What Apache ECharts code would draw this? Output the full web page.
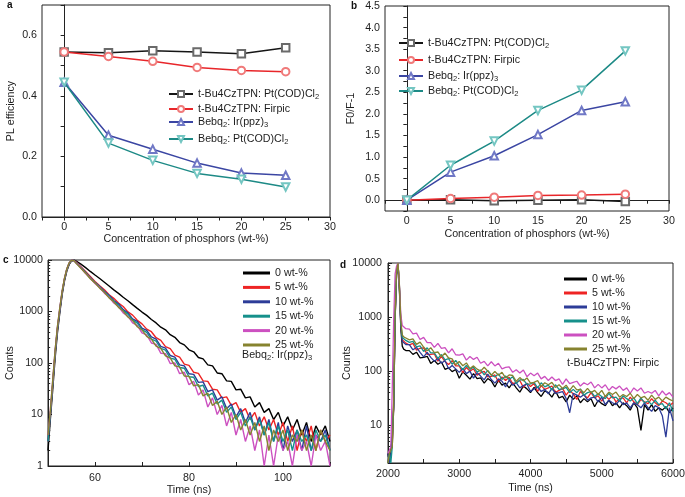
<!DOCTYPE html>
<html><head><meta charset="utf-8">
<script src="https://cdn.jsdelivr.net/npm/echarts@6/dist/echarts.min.js"></script>
<style>html,body{margin:0;padding:0;background:#fff}#c{width:685px;height:497px}</style>
</head><body><div id="c"></div>
<script>
// ---------- panel a / b : concentration series ----------
const conc = [0, 5, 10, 15, 20, 25];
const namesAB = ['t-Bu4CzTPN: Pt(COD)Cl2', 't-Bu4CzTPN: Firpic', 'Bebq2: Ir(ppz)3', 'Bebq2: Pt(COD)Cl2'];
const plPt = [0.545, 0.542, 0.549, 0.545, 0.539, 0.559];
const plFirpic = [0.545, 0.530, 0.514, 0.494, 0.484, 0.480];
const plIr = [0.445, 0.270, 0.224, 0.178, 0.145, 0.138];
const plBebqPt = [0.445, 0.244, 0.187, 0.144, 0.125, 0.099];
const svPt = [0.0, 0.01, -0.015, 0.0, 0.01, -0.03];
const svFirpic = [0.0, 0.04, 0.07, 0.11, 0.12, 0.14];
const svIr = [0.0, 0.65, 1.03, 1.52, 2.08, 2.28];
const svBebqPt = [0.0, 0.81, 1.37, 2.08, 2.55, 3.46];

// ---------- panel c : Bebq2: Ir(ppz)3 decays ----------
const namesCD = ['0 wt-%', '5 wt-%', '10 wt-%', '15 wt-%', '20 wt-%', '25 wt-%'];
const timeC = [50,50.5,51,51.5,52,52.5,53,53.5,54,54.5,55,55.5,56,57,58,59,60,61,62,63,64,65,66,67,68,69,70,71,72,73,74,75,76,77,78,79,80,81,82,83,84,85,86,87,88,89,90,91,92,93,94,95,96,97,98,99,100,101,102,103,104,105,106,107,108,109,110];
const c0 = [2,8,30,120,380,930,2100,3900,6100,8200,9500,10000,
 9550,8300,7100,6000,5100,4370,3700,3120,2630,2250,1890,1620,1360,1150,975,840,700,600,495,440,355,315,250,225,180,165,128,120,92,88,64,62,45,44,30,31,21,22,14,17,11,13,8,11,6,9,5,8,4,7,3,6,4,6,3];
const c5 = [3,10,38,150,450,1050,2300,4200,6500,8600,9800,9900,
 9100,7400,6000,4800,3820,3150,2650,2120,1800,1460,1250,985,850,675,575,455,405,310,275,208,190,142,130,95,90,66,63,45,44,31,30,21,22,15,17,11,13,8,11,6,9,5,8,4,7,3,6,2,5,3,6,2,5,3,4];
const c10 = [3,10,38,150,450,1050,2300,4200,6500,8600,9800,9900,
 8900,7200,5750,4600,3680,3050,2480,2070,1630,1410,1090,940,715,645,475,430,320,290,210,195,140,130,92,88,62,60,42,43,28,30,19,22,13,16,9,13,7,11,5,9,4,8,3,7,2,6,3,5,2,6,2,4,3,5,2];
const c15 = [3,10,38,150,450,1050,2300,4200,6500,8600,9800,9900,
 8800,7100,5650,4480,3600,2980,2370,1990,1560,1330,1030,890,680,595,445,395,290,265,192,178,124,118,82,79,54,53,35,37,23,26,16,19,11,14,8,11,6,9,5,8,4,7,3,6,3,5,2,5,3,4,2,5,3,4,2];
const c20 = [4,12,45,170,500,1150,2450,4400,6700,8800,9900,9800,
 8650,7050,5450,4400,3500,2910,2270,1900,1460,1250,940,810,600,535,385,350,245,230,155,152,98,100,62,66,38,44,24,30,14,21,10,15,6,11,4,8,3,6,2,5,1,4,1,4,2,3,1,4,2,3,1,4,2,3,1];
const c25 = [4,12,45,170,500,1150,2450,4400,6700,8800,9900,9800,
 8600,6900,5550,4330,3600,2840,2370,1840,1550,1200,1020,780,670,505,440,330,290,212,192,138,126,88,84,56,55,36,38,23,26,15,18,10,14,7,10,5,8,4,7,3,6,2,5,3,5,2,4,3,5,2,4,2,5,3,2];

// ---------- panel d : t-Bu4CzTPN: Firpic decays ----------
const timeD = [2000,2020,2040,2060,2080,2100,2120,2140,2160,2180,2200,2220,2250,
 2300,2350,2400,2450,2500,2550,2600,2650,2700,2750,2800,2850,2900,2950,3000,3050,3100,3150,3200,3250,3300,3350,3400,3450,3500,3550,3600,3650,3700,3750,3800,3850,3900,3950,4000,4050,4100,4150,4200,4250,4300,4350,4400,4450,4500,4550,4600,4650,4700,4750,4800,4850,4900,4950,5000,5050,5100,5150,5200,5250,5300,5350,5400,5450,5500,5550,5600,5650,5700,5750,5800,5850,5900,5950,6000];
const d0 = [3,2,4,5,20,900,6000,10000,3200,600,290,255,240,
 240,204,224,176,180,188,139,157,134,148,108,115,98,107,74,97,84,71,90,73,75,60,73,66,51,68,55,60,49,61,49,41,53,47,40,50,40,34,43,40,33,43,32,34,27,36,30,35,26,31,27,31,22,29,25,23,29,23,26,21,26,23,19,26,21,8,24,19,24,18,21,19,22,17,21];
const d5 = [2,3,3,4,25,1000,6400,10000,3600,750,380,350,330,
 305,326,245,265,269,204,205,209,153,187,150,132,156,125,125,94,117,100,111,84,93,99,78,80,85,63,78,67,77,58,62,67,50,60,52,59,42,54,46,49,53,40,44,48,36,44,38,30,42,36,32,40,32,35,28,35,30,35,27,31,32,26,33,27,24,30,27,25,31,26,23,28,26,23,26];
const d10 = [3,2,3,3,22,950,6200,10000,3400,700,355,330,310,
 308,248,274,222,184,222,180,153,172,140,158,111,127,110,95,112,90,100,74,94,81,69,88,70,60,72,65,51,68,55,61,49,54,58,42,47,51,42,46,38,48,39,40,42,31,17,39,36,33,37,29,32,33,27,33,24,29,26,24,29,24,26,21,26,24,21,26,21,18,23,21,15,6,21,12];
const d15 = [2,3,2,4,28,1100,6600,10000,3800,800,420,390,370,
 341,354,281,293,231,270,218,218,172,203,162,170,134,158,128,107,127,108,119,96,105,85,103,85,78,89,70,81,70,79,59,69,70,57,58,62,49,61,51,55,45,56,46,47,50,40,46,40,47,36,40,42,34,38,34,31,39,32,33,28,35,31,28,32,25,32,26,28,24,29,24,25,20,26,18];
const d20 = [3,3,4,50,900,6300,8800,10000,3900,1100,700,650,610,
 598,488,505,384,422,337,338,275,325,264,272,218,259,201,198,208,160,187,165,181,140,152,125,149,125,140,110,117,120,95,106,92,105,79,92,82,92,72,80,67,78,67,72,57,72,59,62,65,53,61,56,63,49,57,49,56,44,52,47,53,44,49,39,49,43,49,39,42,39,44,35,43,36,40,33];
const d25 = [2,3,3,4,30,1200,6800,10000,4000,850,470,430,410,
 378,394,312,344,279,237,271,220,226,184,216,175,168,131,151,126,142,112,125,109,100,118,100,84,99,84,95,75,85,83,65,76,66,75,60,62,67,52,61,56,62,50,56,48,55,44,54,45,46,40,48,40,44,37,44,34,41,37,41,33,37,34,39,31,37,32,34,29,36,30,33,28,33,30,28];

// ---------- tick values ----------
const logMajor = [1, 10, 100, 1000, 10000];
const logMinorC = [2,3,4,5,6,7,8,9,20,30,40,50,60,70,80,90,200,300,400,500,600,700,800,900,2000,3000,4000,5000,6000,7000,8000,9000];
const logMinorD = [3,4,5,6,7,8,9,20,30,40,50,60,70,80,90,200,300,400,500,600,700,800,900,2000,3000,4000,5000,6000,7000,8000,9000];

// ---------- styling ----------
const FONT = 'Liberation Sans, Arial, sans-serif';
const TXT = '#1e1e1e';
const abStyle = [
  {line: '#151515', mark: '#6a6a6a', symbol: 'emptyRect', rot: 0},
  {line: '#e8262a', mark: '#f07a7a', symbol: 'emptyCircle', rot: 0},
  {line: '#3b46a3', mark: '#7078c6', symbol: 'emptyTriangle', rot: 0},
  {line: '#1d8a86', mark: '#74c6c2', symbol: 'emptyTriangle', rot: 180}
];
const cdColors = ['#000000', '#ee2424', '#2d3c98', '#16908b', '#cc50c0', '#86832f'];
const richNames = {
  't-Bu4CzTPN: Pt(COD)Cl2': 't-Bu4CzTPN: Pt(COD)Cl{s|2}',
  't-Bu4CzTPN: Firpic': 't-Bu4CzTPN: Firpic',
  'Bebq2: Ir(ppz)3': 'Bebq{s|2}: Ir(ppz){s|3}',
  'Bebq2: Pt(COD)Cl2': 'Bebq{s|2}: Pt(COD)Cl{s|2}'
};
const rich = {s: {fontSize: 7.5, lineHeight: 8, padding: [6, 0, 0, 0], fontFamily: FONT, color: TXT}};

const rects = [
  {left: 42, top: 5, width: 288, height: 212},
  {left: 385, top: 6, width: 284, height: 205},
  {left: 48, top: 260, width: 282, height: 206},
  {left: 388, top: 263, width: 285, height: 200}
];
const grids = rects.map(g => Object.assign({}, g, {show: true, borderColor: '#222', borderWidth: 1, backgroundColor: 'transparent', containLabel: false, outerBoundsMode: 'none'}));
// overlay grids (4, 5) carrying only the minor log ticks of panels c and d
grids.push(Object.assign({}, rects[2], {show: false, containLabel: false, outerBoundsMode: 'none'}));
grids.push(Object.assign({}, rects[3], {show: false, containLabel: false, outerBoundsMode: 'none'}));

const lab = (extra) => Object.assign({color: TXT, fontSize: 10.7, fontFamily: FONT}, extra);
const axLine = {show: true, lineStyle: {color: '#222', width: 1}};
const nameStyle = {color: TXT, fontSize: 10.7, fontFamily: FONT};

const xAxes = [
  {gridIndex: 0, type: 'value', min: -2.5, max: 30, interval: 2.5, name: 'Concentration of phosphors (wt-%)', nameLocation: 'middle', nameGap: 16,
   axisLabel: lab({margin: 5, formatter: v => (v >= 0 && Math.abs(v % 5) < 1e-6) ? String(v) : ''}), axisTick: {length: 3.5, lineStyle: {color: '#222'}}},
  {gridIndex: 1, type: 'value', min: -2.5, max: 30, interval: 2.5, name: 'Concentration of phosphors (wt-%)', nameLocation: 'middle', nameGap: 18,
   axisLabel: lab({margin: 5, formatter: v => (v >= 0 && Math.abs(v % 5) < 1e-6) ? String(v) : ''}), axisTick: {length: 3.5, lineStyle: {color: '#222'}}},
  {gridIndex: 2, type: 'value', min: 50, max: 110, interval: 10, name: 'Time (ns)', nameLocation: 'middle', nameGap: 18,
   axisLabel: lab({margin: 7, formatter: v => (v === 60 || v === 80 || v === 100) ? String(v) : ''}), axisTick: {inside: true, length: 4, lineStyle: {color: '#222'}}},
  {gridIndex: 3, type: 'value', min: 2000, max: 6000, interval: 500, name: 'Time (ns)', nameLocation: 'middle', nameGap: 20,
   axisLabel: lab({margin: 6, formatter: v => (v % 1000 === 0) ? String(v) : ''}), axisTick: {inside: true, length: 4, lineStyle: {color: '#222'}}},
  {gridIndex: 4, type: 'value', min: 50, max: 110, show: false},
  {gridIndex: 5, type: 'value', min: 2000, max: 6000, show: false}
].map(a => Object.assign({axisLine: axLine, splitLine: {show: false}, nameTextStyle: nameStyle}, a));

const yAxes = [
  {gridIndex: 0, type: 'value', min: 0, max: 0.7, interval: 0.1, name: 'PL efficiency', nameLocation: 'middle', nameGap: 25,
   axisLabel: lab({margin: 5, formatter: v => (Math.round(v * 10) % 2 === 0) ? v.toFixed(1) : ''}), axisTick: {length: 3.5, lineStyle: {color: '#222'}}},
  {gridIndex: 1, type: 'value', min: -0.25, max: 4.5, interval: 0.25, name: 'F0/F-1', nameLocation: 'middle', nameGap: 28,
   axisLabel: lab({margin: 5, formatter: v => (Math.round(v * 4) % 2 === 0) ? v.toFixed(1) : ''}), axisTick: {length: 3.5, lineStyle: {color: '#222'}}},
  {gridIndex: 2, type: 'log', logBase: 10, min: 1, max: 10000, name: 'Counts', nameLocation: 'middle', nameGap: 32, nameMoveOverlap: false,
   axisLabel: lab({margin: 5, customValues: logMajor, formatter: v => String(Math.round(v))}),
   axisTick: {inside: true, length: 4, customValues: logMajor, lineStyle: {color: '#222'}}},
  {gridIndex: 3, type: 'log', logBase: 10, min: 2, max: 10000, name: 'Counts', nameLocation: 'middle', nameGap: 35, nameMoveOverlap: false,
   axisLabel: lab({margin: 6, customValues: logMajor.slice(1), formatter: v => String(Math.round(v))}),
   axisTick: {inside: true, length: 4, customValues: logMajor.slice(1), lineStyle: {color: '#222'}}},
  {gridIndex: 4, type: 'log', logBase: 10, min: 1, max: 10000, position: 'left', axisLine: {show: false}, axisLabel: {show: false},
   axisTick: {inside: true, length: 2.2, customValues: logMinorC, lineStyle: {color: '#222'}}},
  {gridIndex: 5, type: 'log', logBase: 10, min: 2, max: 10000, position: 'left', axisLine: {show: false}, axisLabel: {show: false},
   axisTick: {inside: true, length: 2.2, customValues: logMinorD, lineStyle: {color: '#222'}}}
].map(a => Object.assign({axisLine: axLine, splitLine: {show: false}, nameTextStyle: nameStyle}, a));

const series = [];
const abData = [[plPt, plFirpic, plIr, plBebqPt], [svPt, svFirpic, svIr, svBebqPt]];
abData.forEach((set, gi) => {
  set.forEach((vals, k) => {
    const st = abStyle[k];
    series.push({
      name: namesAB[k], type: 'line', xAxisIndex: gi, yAxisIndex: gi,
      data: conc.map((x, i) => [x, vals[i]]),
      symbol: st.symbol, symbolSize: 7.5, symbolRotate: st.rot,
      lineStyle: {color: st.line, width: 1.5},
      itemStyle: {color: st.mark, borderWidth: 1.2},
      z: 3 + k
    });
  });
});
const cSets = [c0, c5, c10, c15, c20, c25];
const dSets = [d0, d5, d10, d15, d20, d25];
cSets.forEach((vals, k) => series.push({
  name: namesCD[k], type: 'line', xAxisIndex: 2, yAxisIndex: 2,
  data: timeC.map((t, i) => [t, vals[i]]), symbol: 'none',
  lineStyle: {color: cdColors[k], width: 1.4}, itemStyle: {color: cdColors[k]}, z: 3 + k
}));
dSets.forEach((vals, k) => series.push({
  name: namesCD[k], type: 'line', xAxisIndex: 3, yAxisIndex: 3,
  data: timeD.map((t, i) => [t, vals[i]]), symbol: 'none',
  lineStyle: {color: cdColors[k], width: 1.3}, itemStyle: {color: cdColors[k]}, z: 3 + k
}));

const legBase = {orient: 'vertical', padding: 0, selectedMode: false, itemGap: 0,
  textStyle: {color: TXT, fontSize: 10.7, fontFamily: FONT, lineHeight: 14, rich: rich},
  formatter: n => richNames[n] || n};
const legends = [];
const aTops = [87, 102, 115, 132];
const bTops = [36, 53, 69, 84];
namesAB.forEach((n, k) => {
  legends.push(Object.assign({}, legBase, {data: [n], left: 168, top: aTops[k], itemWidth: 24, itemHeight: 7.5}));
  legends.push(Object.assign({}, legBase, {data: [n], left: 398, top: bTops[k], itemWidth: 24, itemHeight: 7.5}));
});
legends.push(Object.assign({}, legBase, {data: namesCD, left: 243, top: 266, itemWidth: 27, itemHeight: 3, itemGap: 0.4, icon: 'rect',
  textStyle: {color: TXT, fontSize: 10.7, fontFamily: FONT, lineHeight: 14}}));
legends.push(Object.assign({}, legBase, {data: namesCD, left: 564, top: 272, itemWidth: 23, itemHeight: 3, itemGap: 0, icon: 'rect',
  textStyle: {color: TXT, fontSize: 10.7, fontFamily: FONT, lineHeight: 14}}));

const panelLabel = (txt, x, y) => ({type: 'text', left: x, top: y, style: {text: txt, font: 'bold 10px ' + FONT, fill: '#111'}});
const graphic = [
  panelLabel('a', 7, 0), panelLabel('b', 351, 1), panelLabel('c', 3, 255), panelLabel('d', 340, 260),
  {type: 'text', left: 242, top: 348, style: {text: 'Bebq{s|2}: Ir(ppz){s|3}', fontSize: 10.7, fontFamily: FONT, fill: TXT, lineHeight: 14, rich: rich}},
  {type: 'text', left: 567, top: 356, style: {text: 't-Bu4CzTPN: Firpic', fontSize: 10.7, fontFamily: FONT, fill: TXT, lineHeight: 14}}
];

const chart = echarts.init(document.getElementById('c'), null, {renderer: 'canvas'});
chart.setOption({
  animation: false, backgroundColor: '#fff',
  grid: grids, xAxis: xAxes, yAxis: yAxes, series: series, legend: legends, graphic: graphic
});
</script></body></html>
